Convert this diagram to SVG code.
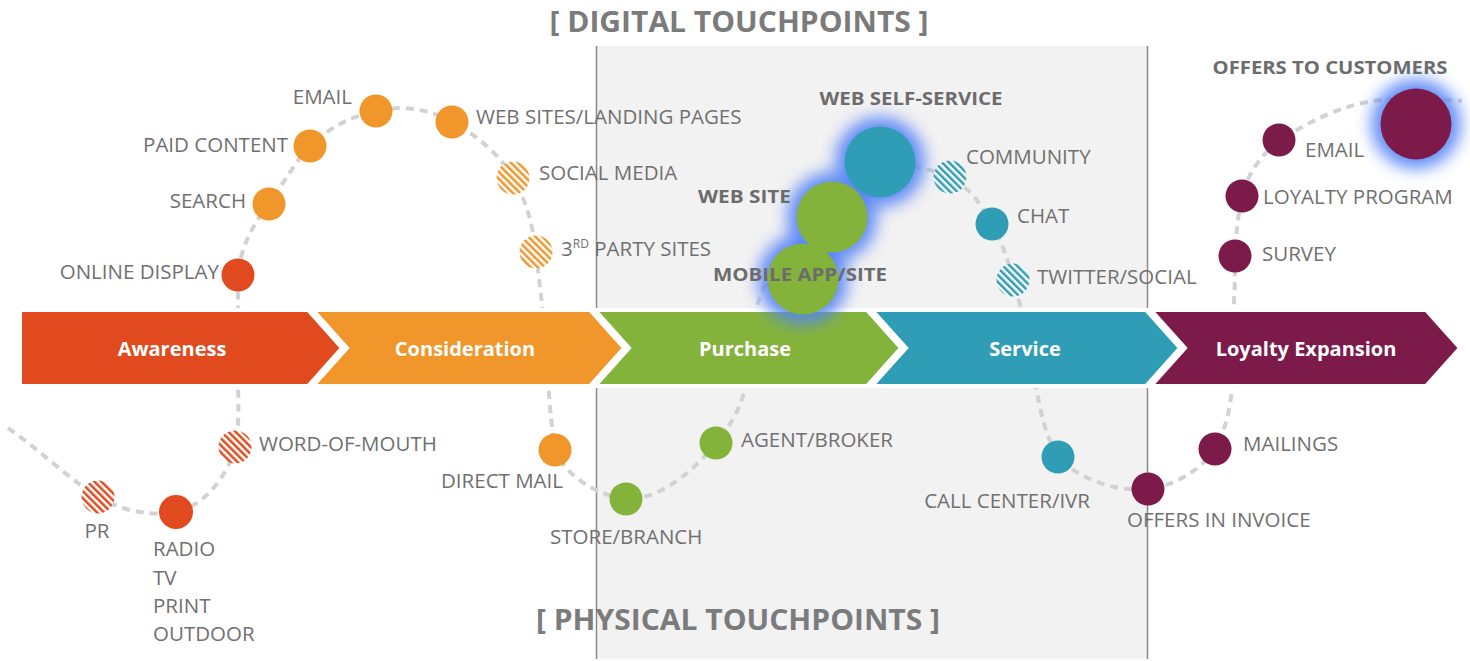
<svg xmlns="http://www.w3.org/2000/svg" width="1470" height="661" viewBox="0 0 1470 661">
  <defs>
    <style>
      .lbl { font-family: "Open Sans", "Liberation Sans", sans-serif; font-size: 20.5px; fill: #707070; }
      .blbl { font-family: "Open Sans", "Liberation Sans", sans-serif; font-size: 18px; font-weight: 700; fill: #6c6c6c; }
      .title { font-family: "Open Sans", "Liberation Sans", sans-serif; font-size: 28px; font-weight: 700; fill: #7b7b7b; }
      .stage { font-family: "Open Sans", "Liberation Sans", sans-serif; font-size: 20px; font-weight: 700; fill: #ffffff; text-anchor: middle; }
      .chev { stroke: #ffffff; stroke-width: 4; stroke-linejoin: miter; }
      .path { fill: none; stroke: #d2d2d2; stroke-width: 4; stroke-dasharray: 8 6; }
      .red { fill: #e04a1e; }
      .org { fill: #f0962a; }
      .grn { fill: #84b33b; }
      .teal { fill: #2f9db6; }
      .mar { fill: #7c1a4a; }
      .end { text-anchor: end; }
      .mid { text-anchor: middle; }
      .glow { fill: #5282f7; opacity: 0.9; filter: url(#blur); }
    </style>
    <filter id="blur" x="-80%" y="-80%" width="260%" height="260%">
      <feGaussianBlur stdDeviation="8"/>
    </filter>
    <pattern id="hatchRed" width="5" height="10" patternUnits="userSpaceOnUse" patternTransform="rotate(-45)">
      <rect width="5" height="10" fill="#ffffff"/>
      <rect width="2.5" height="10" fill="#e04a1e"/>
    </pattern>
    <pattern id="hatchOrg" width="5" height="10" patternUnits="userSpaceOnUse" patternTransform="rotate(-45)">
      <rect width="5" height="10" fill="#ffffff"/>
      <rect width="2.5" height="10" fill="#f0962a"/>
    </pattern>
    <pattern id="hatchTeal" width="5" height="10" patternUnits="userSpaceOnUse" patternTransform="rotate(-45)">
      <rect width="5" height="10" fill="#ffffff"/>
      <rect width="2.5" height="10" fill="#2f9db6"/>
    </pattern>
  </defs>

  <rect width="1470" height="661" fill="#ffffff"/>

  <!-- digital touchpoint panel -->
  <g id="panel">
    <rect x="596" y="46" width="552" height="613" fill="#f2f2f2"/>
    <line x1="596.5" y1="46" x2="596.5" y2="659" stroke="#8a8a8a" stroke-width="1.5"/>
    <line x1="1147.5" y1="46" x2="1147.5" y2="659" stroke="#8a8a8a" stroke-width="1.5"/>
  </g>

  <g id="titles">
    <text class="title mid" x="739" y="32" textLength="379" lengthAdjust="spacingAndGlyphs">[ DIGITAL TOUCHPOINTS ]</text>
    <text class="title mid" x="738" y="630" textLength="404" lengthAdjust="spacingAndGlyphs">[ PHYSICAL TOUCHPOINTS ]</text>
  </g>

  <!-- journey connector -->
  <g id="connectors">
    <path class="path" d="M8,428 C40,450 70,480 98,497 C125,512 150,516 176,512 C205,506 228,475 235,447 C240,425 238,400 238,370 L238,275 C240,250 252,225 269,204 C283,184 295,162 310,146 C330,127 350,117 376,111 C405,104 430,110 452,122 C478,136 500,155 513,178 C526,200 533,225 536,252 C540,290 546,330 548,380 C550,410 552,430 555,450 C565,475 595,495 626,499 C660,500 695,470 716,443 C735,420 745,400 748,370 C752,335 752,315 762,292 C775,262 800,240 832,217 C850,200 862,180 880,162 C905,165 930,168 950,177 C970,188 982,205 992,224 C1002,242 1008,260 1013,280 C1022,310 1030,340 1035,380 C1040,410 1045,435 1058,457 C1080,480 1115,492 1148,489 C1180,485 1205,465 1215,449 C1228,425 1233,400 1233,360 L1234,300 C1235,285 1235,270 1235,256 C1236,235 1238,215 1242,196 C1248,172 1262,155 1279,140 C1310,122 1340,105 1380,100 C1410,97 1440,99 1462,101"/>
  </g>

  <!-- lifecycle stages -->
  <g id="stage-awareness">
    <polygon class="chev red" points="20,310 308,310 342,348 308,386 20,386"/>
    <text class="stage" x="172" y="356">Awareness</text>
  </g>
  <g id="stage-consideration">
    <polygon class="chev org" points="313,310 590,310 624,348 590,386 313,386 347,348"/>
    <text class="stage" x="465" y="356">Consideration</text>
  </g>
  <g id="stage-purchase">
    <polygon class="chev grn" points="595,310 867,310 901,348 867,386 595,386 629,348"/>
    <text class="stage" x="745" y="356">Purchase</text>
  </g>
  <g id="stage-service">
    <polygon class="chev teal" points="872,310 1146,310 1180,348 1146,386 872,386 906,348"/>
    <text class="stage" x="1025" y="356">Service</text>
  </g>
  <g id="stage-loyalty">
    <polygon class="chev mar" points="1151,310 1426,310 1460,348 1426,386 1151,386 1185,348"/>
    <text class="stage" x="1306" y="356">Loyalty Expansion</text>
  </g>

  <!-- awareness touchpoints -->
  <g id="pr">
    <circle cx="98" cy="497" r="16.5" fill="url(#hatchRed)"/>
    <text class="lbl mid" x="97" y="538">PR</text>
  </g>
  <g id="radio">
    <circle class="red" cx="176" cy="512" r="17"/>
    <text class="lbl" x="153" y="556">RADIO</text>
    <text class="lbl" x="153" y="585">TV</text>
    <text class="lbl" x="153" y="613">PRINT</text>
    <text class="lbl" x="153" y="641">OUTDOOR</text>
  </g>
  <g id="word-of-mouth">
    <circle cx="235" cy="447" r="16.5" fill="url(#hatchRed)"/>
    <text class="lbl" x="259" y="451">WORD-OF-MOUTH</text>
  </g>
  <g id="online-display">
    <circle class="red" cx="238" cy="275" r="16.5"/>
    <text class="lbl end" x="219" y="279">ONLINE DISPLAY</text>
  </g>

  <!-- consideration touchpoints -->
  <g id="search">
    <circle class="org" cx="269" cy="204" r="16.5"/>
    <text class="lbl end" x="246" y="208">SEARCH</text>
  </g>
  <g id="paid-content">
    <circle class="org" cx="310" cy="146" r="16.5"/>
    <text class="lbl end" x="288" y="152">PAID CONTENT</text>
  </g>
  <g id="email-1">
    <circle class="org" cx="376" cy="111" r="16.5"/>
    <text class="lbl end" x="352" y="104">EMAIL</text>
  </g>
  <g id="web-sites">
    <circle class="org" cx="452" cy="122" r="16.5"/>
    <text class="lbl" x="476" y="124">WEB SITES/LANDING PAGES</text>
  </g>
  <g id="social-media">
    <circle cx="513" cy="178" r="16.5" fill="url(#hatchOrg)"/>
    <text class="lbl" x="539" y="180">SOCIAL MEDIA</text>
  </g>
  <g id="third-party">
    <circle cx="536" cy="252" r="16.5" fill="url(#hatchOrg)"/>
    <text class="lbl" x="561" y="256">3<tspan font-size="12" dy="-8">RD</tspan><tspan dy="8"> PARTY SITES</tspan></text>
  </g>
  <g id="direct-mail">
    <circle class="org" cx="555" cy="450" r="16.5"/>
    <text class="lbl end" x="563" y="488">DIRECT MAIL</text>
  </g>

  <!-- purchase touchpoints -->
  <g id="store-branch">
    <circle class="grn" cx="626" cy="499" r="16.5"/>
    <text class="lbl" x="550" y="544">STORE/BRANCH</text>
  </g>
  <g id="agent-broker">
    <circle class="grn" cx="716" cy="443" r="16.5"/>
    <text class="lbl" x="741" y="447">AGENT/BROKER</text>
  </g>
  <g id="web-glow">
    <circle class="glow" cx="803" cy="279" r="45"/>
    <circle class="glow" cx="832" cy="217" r="45"/>
    <circle class="glow" cx="880" cy="162" r="45"/>
  </g>
  <g id="mobile-app">
    <circle class="grn" cx="803" cy="279" r="35.5"/>
    <text class="blbl mid" x="800" y="281" textLength="174" lengthAdjust="spacingAndGlyphs">MOBILE APP/SITE</text>
  </g>
  <g id="web-site">
    <circle class="grn" cx="832" cy="217" r="35.5"/>
    <text class="blbl end" x="791" y="203" textLength="93" lengthAdjust="spacingAndGlyphs">WEB SITE</text>
  </g>

  <!-- service touchpoints -->
  <g id="web-self-service">
    <circle class="teal" cx="880" cy="162" r="35.5"/>
    <text class="blbl mid" x="911" y="105" textLength="183" lengthAdjust="spacingAndGlyphs">WEB SELF-SERVICE</text>
  </g>
  <g id="community">
    <circle cx="950" cy="177" r="16.5" fill="url(#hatchTeal)"/>
    <text class="lbl" x="966" y="164">COMMUNITY</text>
  </g>
  <g id="chat">
    <circle class="teal" cx="992" cy="224" r="16.5"/>
    <text class="lbl" x="1017" y="223">CHAT</text>
  </g>
  <g id="twitter-social">
    <circle cx="1013" cy="280" r="16.5" fill="url(#hatchTeal)"/>
    <text class="lbl" x="1037" y="284">TWITTER/SOCIAL</text>
  </g>
  <g id="call-center">
    <circle class="teal" cx="1058" cy="457" r="16.5"/>
    <text class="lbl end" x="1090" y="508">CALL CENTER/IVR</text>
  </g>

  <!-- loyalty touchpoints -->
  <g id="offers-in-invoice">
    <circle class="mar" cx="1148" cy="489" r="16.5"/>
    <text class="lbl" x="1127" y="527">OFFERS IN INVOICE</text>
  </g>
  <g id="mailings">
    <circle class="mar" cx="1215" cy="449" r="16.5"/>
    <text class="lbl" x="1243" y="451">MAILINGS</text>
  </g>
  <g id="survey">
    <circle class="mar" cx="1235" cy="256" r="16.5"/>
    <text class="lbl" x="1262" y="261">SURVEY</text>
  </g>
  <g id="loyalty-program">
    <circle class="mar" cx="1242" cy="196" r="16.5"/>
    <text class="lbl" x="1263" y="204">LOYALTY PROGRAM</text>
  </g>
  <g id="email-2">
    <circle class="mar" cx="1279" cy="140" r="16.5"/>
    <text class="lbl" x="1305" y="157">EMAIL</text>
  </g>
  <g id="offers-to-customers">
    <circle class="glow" cx="1416" cy="124" r="45"/>
    <circle class="mar" cx="1416" cy="124" r="35.5"/>
    <text class="blbl mid" x="1330" y="74" textLength="235" lengthAdjust="spacingAndGlyphs">OFFERS TO CUSTOMERS</text>
  </g>
</svg>
